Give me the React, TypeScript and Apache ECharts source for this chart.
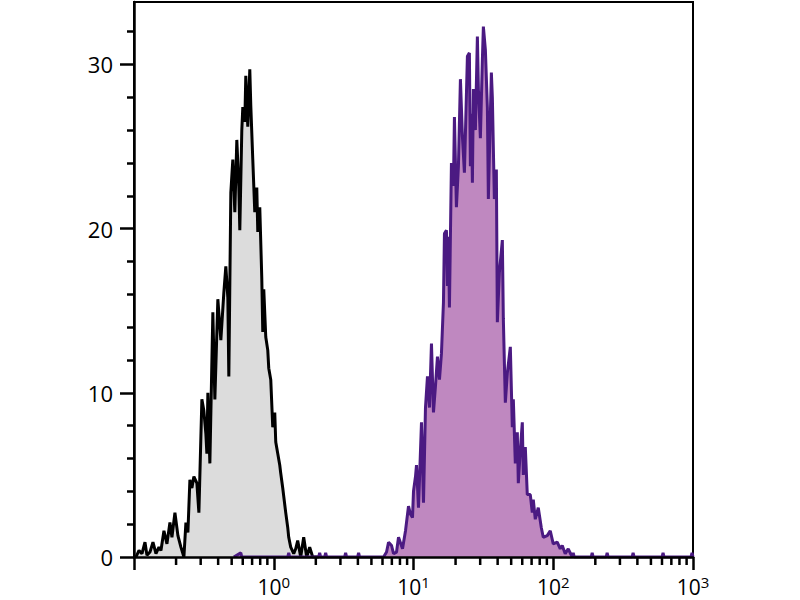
import * as echarts from "echarts";
import { useEffect, useRef } from "react";

// histogram channels: 140 channels per decade, channel 0 = 10^-1
const CH_PER_DECADE = 140;
const LOG_MIN = -1;

// [channel, count]
const controlHistogram: [number, number][] = [
  [2, 0], [5, 0.4], [8, 0.2], [11, 0.9], [13, 0.1], [16, 0.3], [19, 0.9], [22, 0.2], [25, 0.6], [27, 0.4],
  [30, 1.6], [33, 0.8], [36, 2.1], [38, 1.2], [41, 2.7], [44, 1.3], [47, 0.6], [50, 0], [52, 2.1], [54, 1.5],
  [56, 4.7], [58, 4.2], [60, 4.9], [63, 4.5], [65, 2.7], [68, 9.6], [70, 8.9], [72, 7.5], [73, 6.3], [74, 10.0],
  [76, 5.7], [79, 14.9], [81, 9.6], [84, 15.7], [87, 13.2], [90, 16.1], [92, 17.7], [94, 15.8], [95, 11], [97, 22.2],
  [99, 24.2], [101, 21], [103, 25.4], [105, 22.6], [106, 19.9], [108, 26.0], [109, 27.4], [111, 26.5], [112, 29.3], [114, 26.2],
  [116, 29.7], [117, 27.5], [119, 24.2], [121, 21], [123, 22.5], [124, 19.8], [126, 21.3], [128, 17.0], [129, 13.7], [130, 16.3],
  [132, 13.4], [134, 12.6], [135, 11.5], [137, 10.8], [139, 7.9], [141, 8.8], [142, 7.0], [144, 6.3], [146, 5.6], [147, 5.1],
  [149, 4.2], [150, 3.7], [152, 2.7], [154, 1.8], [155, 1.2], [157, 0.6], [160, 0.2], [162, 0.5], [164, 1.0], [167, 0],
  [170, 1.2], [173, 0], [176, 0.6], [179, 0], [185, 0],
];

const stainedHistogram: [number, number][] = [
  [100, 0], [107, 0.25], [108, 0], [154, 0], [155, 0.25], [156, 0], [185, 0], [186, 0.25], [187, 0], [191, 0],
  [192, 0.25], [193, 0], [211, 0], [212, 0.25], [213, 0], [224, 0], [225, 0.25], [226, 0], [250, 0], [253, 0.3],
  [255, 0.9], [258, 0.7], [260, 0.2], [263, 0.3], [265, 1.2], [269, 0.5], [272, 1.6], [275, 3.1], [277, 2.6], [279, 2.4],
  [280, 4.0], [282, 4.9], [283, 5.6], [285, 3.0], [288, 8.2], [290, 3.3], [292, 9.1], [294, 11.0], [296, 9.1], [298, 13.0],
  [300, 8.8], [302, 10.4], [304, 12.2], [306, 10.8], [308, 12.4], [310, 15.5], [311, 19.7], [313, 19.9], [314, 16.5], [315, 19.5],
  [316, 15.2], [318, 24.0], [320, 22.6], [321, 26.8], [323, 21.3], [325, 23.8], [327, 29.1], [329, 25.6], [331, 23.4], [334, 30.5],
  [336, 30.7], [337, 23.8], [338, 27.0], [339, 22.8], [340, 28.5], [342, 26.0], [344, 31.7], [345, 28.5], [347, 25.5], [349, 30.3],
  [350, 32.3], [352, 30.9], [354, 27.4], [355, 21.8], [358, 29.5], [359, 28.0], [361, 21.8], [363, 23.6], [364, 14.3], [366, 17.3],
  [369, 19.3], [370, 14.5], [372, 9.4], [374, 11.2], [377, 12.8], [379, 7.9], [380, 9.6], [382, 5.7], [384, 7.6], [385, 4.5],
  [387, 6.5], [389, 8.2], [390, 5.0], [392, 6.7], [394, 3.8], [397, 3.8], [399, 2.7], [400, 3.5], [402, 2.3], [405, 3.0],
  [408, 1.8], [410, 1.2], [414, 1.3], [417, 1.6], [420, 0.8], [424, 0.9], [427, 0.5], [429, 0.7], [432, 0.2], [435, 0.5],
  [439, 0], [440, 0.25], [441, 0], [458, 0], [459, 0.25], [460, 0], [473, 0], [474, 0.25], [475, 0], [499, 0],
  [500, 0.25], [501, 0], [529, 0], [530, 0.25], [531, 0], [558, 0], [559, 0.25], [560, 0],
];

const decades = [0.1, 1, 10, 100];
const minorSteps = [2, 3, 4, 5, 6, 7, 8, 9];
const yTickValues = [0, 10, 20, 30];

const FONT = "'Open Sans', 'DejaVu Sans', sans-serif";

const toPoints = (hist: [number, number][]) =>
  hist.map(([ch, count]) => [Math.pow(10, ch / CH_PER_DECADE + LOG_MIN), count]);

export default function App() {
  const ref = useRef<HTMLDivElement | null>(null);

  useEffect(() => {
    if (!ref.current) return;
    const chart = echarts.init(ref.current, undefined, { renderer: "svg" });

    const minorTicks = decades.flatMap((d) => minorSteps.map((m) => [d * m, 0]));

    chart.setOption({
      animation: false,
      backgroundColor: "#fff",
      grid: {
        left: 134,
        right: 107,
        top: 2,
        bottom: 43,
        show: true,
        borderColor: "#000",
        borderWidth: 2,
      },
      xAxis: {
        type: "log",
        logBase: 10,
        min: 0.1,
        max: 1000,
        z: 10,
        axisLine: { lineStyle: { color: "#000", width: 2.5 } },
        axisTick: { length: 13, lineStyle: { color: "#000", width: 2.5 } },
        minorTick: { show: false },
        splitLine: { show: false },
        axisLabel: {
          margin: 17,
          color: "#000",
          formatter: (v: number) => {
            const e = Math.round(Math.log10(v));
            return e < 0 ? "" : `{b|10}{s|${e}}`;
          },
          rich: {
            b: { fontSize: 21, fontFamily: FONT, color: "#000" },
            s: { fontSize: 15, fontFamily: FONT, color: "#000", verticalAlign: "top", padding: [0, 0, 10, 0] },
          },
        },
      },
      yAxis: {
        type: "value",
        min: 0,
        max: 33.8,
        interval: 10,
        z: 10,
        axisLine: { show: true, lineStyle: { color: "#000", width: 2.5 } },
        axisTick: { show: true, length: 14, customValues: yTickValues, lineStyle: { color: "#000", width: 2.5 } },
        minorTick: { show: true, splitNumber: 5, length: 7, lineStyle: { color: "#000", width: 2.5 } },
        splitLine: { show: false },
        axisLabel: {
          customValues: yTickValues,
          margin: 21,
          fontSize: 22,
          fontFamily: FONT,
          color: "#000",
        },
      },
      series: [
        {
          name: "Control",
          type: "line",
          data: toPoints(controlHistogram),
          showSymbol: false,
          z: 2,
          lineStyle: { color: "#000", width: 3 },
          areaStyle: { color: "#dcdcdc", opacity: 1 },
        },
        {
          name: "Stained",
          type: "line",
          data: toPoints(stainedHistogram),
          showSymbol: false,
          z: 3,
          lineStyle: { color: "#4b1a82", width: 3 },
          areaStyle: { color: "#bf88c0", opacity: 1 },
        },
        {
          name: "minor ticks",
          type: "custom",
          clip: false,
          silent: true,
          z: 11,
          data: minorTicks,
          renderItem: (_params: any, api: any) => {
            const p = api.coord([api.value(0), 0]);
            return {
              type: "line",
              shape: { x1: p[0], y1: p[1], x2: p[0], y2: p[1] + 8 },
              style: { stroke: "#000", lineWidth: 2.5 },
            };
          },
        },
      ],
    });

    return () => chart.dispose();
  }, []);

  return (
    <div
      ref={ref}
      style={{ position: "fixed", left: 0, top: 0, width: 800, height: 600, background: "#fff" }}
    />
  );
}
